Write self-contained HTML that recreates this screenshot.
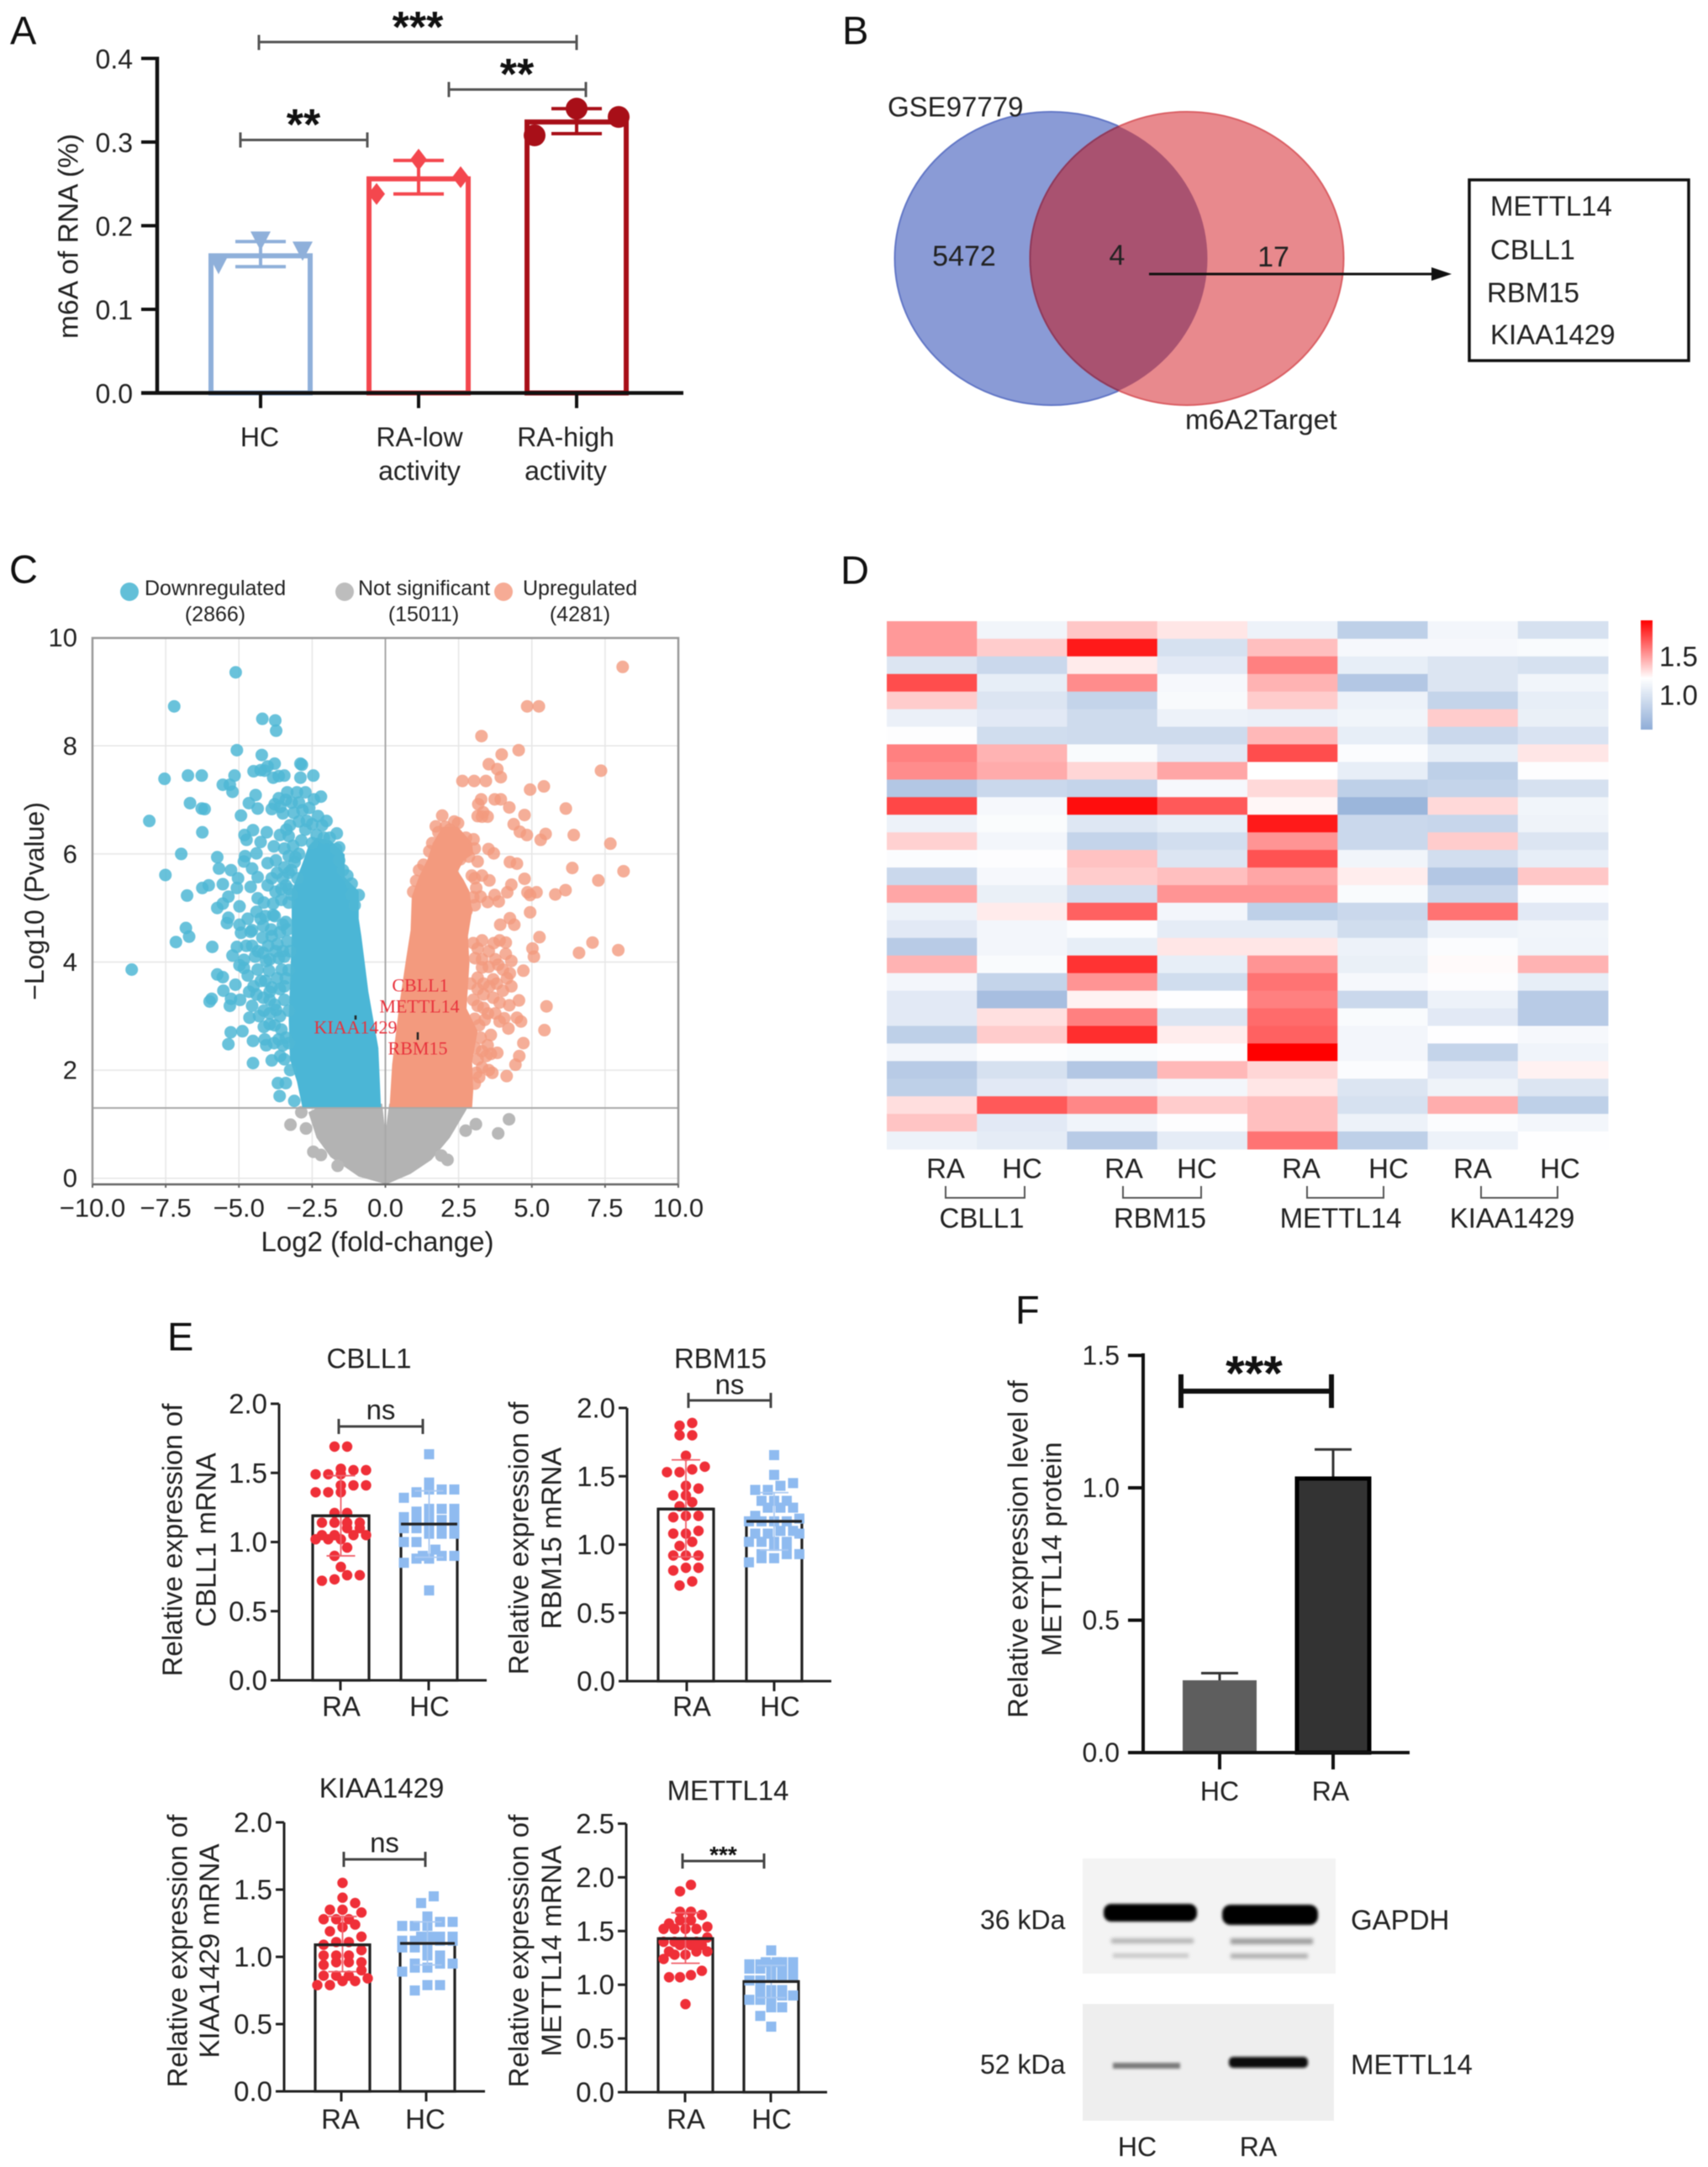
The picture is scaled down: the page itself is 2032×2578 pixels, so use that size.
<!DOCTYPE html>
<html lang="en">
<head>
<meta charset="utf-8">
<title>m6A multi-panel figure</title>
<style>
html,body{margin:0;padding:0;background:#fff;}
svg{display:block;filter:blur(0.6px);}
text{font-family:"Liberation Sans",Arial,sans-serif;fill:#222;dominant-baseline:central;}
.letter{font-size:47px;fill:#111;}
.t33{font-size:33px;}
.t32{font-size:32px;}
.t31{font-size:31px;}
.mid{text-anchor:middle;}
.end{text-anchor:end;}
.gene{font-family:"Liberation Serif",serif;font-size:22px;fill:#e8323c;text-anchor:middle;}
.star{font-weight:bold;fill:#111;text-anchor:middle;dominant-baseline:auto;}
</style>
</head>
<body>
<svg id="fig" xmlns="http://www.w3.org/2000/svg" width="2032" height="2578" viewBox="0 0 2032 2578">
<defs>
<clipPath id="vennClip"><ellipse cx="1250.5" cy="307.5" rx="186" ry="174.5"/></clipPath>
<clipPath id="plotClip"><rect x="110" y="759" width="697" height="650"/></clipPath>
<linearGradient id="cbar" x1="0" y1="0" x2="0" y2="1">
<stop offset="0" stop-color="#ff0000"/><stop offset="0.53" stop-color="#ffffff"/><stop offset="1" stop-color="#8fadd7"/>
</linearGradient>
<filter id="soft" x="-10%" y="-60%" width="120%" height="220%"><feGaussianBlur stdDeviation="2"/></filter>
<filter id="soft2" x="-10%" y="-100%" width="120%" height="300%"><feGaussianBlur stdDeviation="1.6"/></filter>
</defs>
<rect width="2032" height="2578" fill="#fff"/>

<!-- Panel A -->
<text class="letter" x="12" y="36">A</text>
<g id="panelA" transform="translate(-2,-1.5)"></g>
<text class="mid" x="82" y="281" transform="rotate(-90 82 281)" style="font-size:33.5px">m6A of RNA (%)</text>
<g stroke="#555" stroke-width="3" fill="none" transform="translate(-2,-0.5)">
<path d="M310 42V60M310 50.5H688M688 42V60"/>
<path d="M536 98V116M536 107H699M699 98V116"/>
<path d="M288 158V176M288 167H439M439 158V176"/>
</g>
<text class="star" font-size="52" x="497" y="50">***</text>
<text class="star" font-size="52" x="615" y="106">**</text>
<text class="star" font-size="52" x="361" y="166">**</text>

<!-- Panel B -->
<text class="letter" x="1002" y="36">B</text>
<g>
<ellipse cx="1250.5" cy="307.5" rx="186" ry="174.5" fill="#8a9bd6" stroke="#6277c6" stroke-width="2"/>
<ellipse cx="1412" cy="307.5" rx="186.5" ry="174.5" fill="#e8898d" stroke="#da5f64" stroke-width="2"/>
<ellipse cx="1412" cy="307.5" rx="186.5" ry="174.5" fill="#a95270" stroke="#8d3a5c" stroke-width="2" clip-path="url(#vennClip)"/>
</g>
<text x="1056" y="127" style="font-size:33px">GSE97779</text>
<text x="1410" y="500" style="font-size:33.5px">m6A2Target</text>
<text class="mid" x="1147" y="305" style="font-size:34px">5472</text>
<text class="mid" x="1329" y="304" style="font-size:34px">4</text>
<text class="mid" x="1515" y="306" style="font-size:34px">17</text>
<path d="M1367 326H1706" stroke="#111" stroke-width="3"/>
<path d="M1703 318L1727 326L1703 334Z" fill="#111"/>
<rect x="1748" y="214" width="261" height="215" fill="#fff" stroke="#111" stroke-width="3.5"/>
<text class="t33" x="1773" y="245">METTL14</text>
<text class="t33" x="1773" y="297">CBLL1</text>
<text class="t33" x="1769" y="348">RBM15</text>
<text class="t33" x="1773" y="398">KIAA1429</text>

<!-- Panel C -->
<text class="letter" x="11" y="677">C</text>
<g>
<circle cx="154" cy="704" r="11" fill="#62bfd8"/>
<text x="172" y="700" style="font-size:25px">Downregulated</text>
<text class="mid" x="256" y="731" style="font-size:25px">(2866)</text>
<circle cx="410" cy="704" r="11" fill="#bdbdbd"/>
<text x="426" y="700" style="font-size:25px">Not significant</text>
<text class="mid" x="504" y="731" style="font-size:25px">(15011)</text>
<circle cx="599" cy="704" r="11" fill="#f6ab95"/>
<text x="622" y="700" style="font-size:25px">Upregulated</text>
<text class="mid" x="690" y="731" style="font-size:25px">(4281)</text>
</g>
<g id="panelC"></g>
<text class="mid" x="449" y="1477" style="font-size:33px">Log2 (fold-change)</text>
<text class="t32 mid" x="41" y="1072" transform="rotate(-90 41 1072)">&#8722;Log10 (Pvalue)</text>
<text class="gene" x="500" y="1172">CBLL1</text>
<text class="gene" x="499" y="1197">METTL14</text>
<text class="gene" x="423" y="1222">KIAA1429</text>
<text class="gene" x="497" y="1247">RBM15</text>
<path d="M423 1208v5M497 1228v9" stroke="#222" stroke-width="2.5"/>

<!-- Panel D -->
<text class="letter" x="1000" y="678">D</text>
<g id="panelD"></g>
<rect x="1952" y="738" width="14" height="130" fill="url(#cbar)"/>
<text class="t33" x="1974" y="781">1.5</text>
<text class="t33" x="1974" y="827">1.0</text>
<g>
<text class="t33 mid" x="1125" y="1390">RA</text>
<text class="t33 mid" x="1216" y="1390">HC</text>
<text class="t33 mid" x="1337" y="1390">RA</text>
<text class="t33 mid" x="1424" y="1390">HC</text>
<text class="t33 mid" x="1548" y="1390">RA</text>
<text class="t33 mid" x="1652" y="1390">HC</text>
<text class="t33 mid" x="1752" y="1390">RA</text>
<text class="t33 mid" x="1856" y="1390">HC</text>
</g>
<g stroke="#555" stroke-width="2" fill="none" transform="translate(1,1)">
<path d="M1124 1410v14H1218v-14"/>
<path d="M1335 1410v14H1428v-14"/>
<path d="M1554 1410v14H1645v-14"/>
<path d="M1761 1410v14H1852v-14"/>
</g>
<text class="t33 mid" x="1168" y="1449">CBLL1</text>
<text class="t33 mid" x="1380" y="1449">RBM15</text>
<text class="t33 mid" x="1595" y="1449">METTL14</text>
<text class="t33 mid" x="1799" y="1449">KIAA1429</text>

<!-- Panel E -->
<text class="letter" x="199" y="1590">E</text>
<g id="panelE"></g>

<!-- Panel F -->
<text class="letter" x="1208" y="1558">F</text>
<g id="panelF"></g>
<text class="t33 mid" x="1211" y="1843" transform="rotate(-90 1211 1843)">Relative expression level of</text>
<text class="t33 mid" x="1251" y="1843" transform="rotate(-90 1251 1843)">METTL14 protein</text>
<path d="M1405 1635v40M1405 1655H1584M1584 1635v40" stroke="#111" stroke-width="6" fill="none"/>
<text class="star" font-size="58" x="1492" y="1654">***</text>

<g transform="translate(4,8)">
<rect x="1284" y="2203" width="301" height="137" fill="#f3f3f3"/>
<rect x="1309" y="2257" width="111" height="21" rx="9" fill="#050505" filter="url(#soft2)"/>
<rect x="1450" y="2258" width="114" height="24" rx="10" fill="#050505" filter="url(#soft2)"/>
<rect x="1318" y="2298" width="98" height="6" fill="#b5b5b5" filter="url(#soft)"/>
<rect x="1320" y="2316" width="90" height="5" fill="#c4c4c4" filter="url(#soft)"/>
<rect x="1460" y="2298" width="98" height="7" fill="#9f9f9f" filter="url(#soft)"/>
<rect x="1460" y="2316" width="92" height="6" fill="#b0b0b0" filter="url(#soft)"/>
</g>
<g transform="translate(4,8)">
<rect x="1284" y="2376" width="299" height="139" fill="#eeeeee"/>
<rect x="1320" y="2446" width="80" height="7" fill="#7a7a7a" filter="url(#soft2)"/>
<rect x="1458" y="2439" width="94" height="13" rx="5" fill="#0a0a0a" filter="url(#soft2)"/>
</g>
<text class="t32" x="1166" y="2284">36 kDa</text>
<text class="t33" x="1607" y="2284">GAPDH</text>
<text class="t32" x="1166" y="2456">52 kDa</text>
<text class="t33" x="1607" y="2456">METTL14</text>
<text class="t32 mid" x="1353" y="2554">HC</text>
<text class="t32 mid" x="1497" y="2554">RA</text>
</svg>

<script>
/* ---------- Panel A data ---------- */
const aCategories = [['HC'], ['RA-low', 'activity'], ['RA-high', 'activity']];
const aMeans = [0.164, 0.256, 0.324];
const aUpper = [0.181, 0.278, 0.340];
const aLower = [0.151, 0.238, 0.310];
const aPointsHC = [0.182, 0.170, 0.154];
const aPointsLow = [0.279, 0.258, 0.238];
const aPointsHigh = [0.340, 0.330, 0.308];
const aTicks = [0, 0.1, 0.2, 0.3, 0.4];

/* ---------- Panel C data (log2 fold-change, -log10 p) ---------- */
const volcanoXTicks = [-10, -7.5, -5, -2.5, 0, 2.5, 5, 7.5, 10];
const volcanoYTicks = [0, 2, 4, 6, 8, 10];
const pThreshold = 1.3;
const downPoints = [[-5.11,9.36],[-7.21,8.73],[-4.2,8.5],[-3.76,8.47],[-3.73,8.28],[-5.07,7.92],[-4.22,7.83],[-2.9,7.67],[-2.85,7.65],[-3.78,7.67],[-4.02,7.62],[-4.26,7.55],[-4.5,7.53],[-4.12,7.54],[-7.54,7.39],[-6.74,7.45],[-6.27,7.45],[-5.15,7.45],[-3.83,7.41],[-3.64,7.44],[-3.45,7.45],[-2.9,7.41],[-2.46,7.45],[-5.55,7.28],[-5.31,7.28],[-5.22,7.15],[-4.43,7.09],[-3.35,7.14],[-3.02,7.14],[-2.73,7.14],[-2.2,7.06],[-2.44,7.01],[-3.64,7.03],[-3.4,7],[-3.78,6.92],[-3.88,6.83],[-3.59,6.87],[-6.67,6.94],[-6.27,6.84],[-6.17,6.83],[-4.66,6.94],[-4.36,6.84],[-4.93,6.71],[-2.83,6.81],[-3.13,6.76],[-8.06,6.61],[-2.68,6.61],[-2.01,6.61],[-2.16,6.53],[-3.38,6.45],[-3.26,6.53],[-6.25,6.4],[-4.52,6.44],[-4.81,6.35],[-4.74,6.26],[-4.05,6.4],[-4.26,6.22],[-1.66,6.38],[-3.3,6.33],[-2.73,6.45],[-2.87,6.25],[-2.35,6.35],[-3.81,6.14],[-1.58,6.12],[-6.97,6],[-5.74,5.94],[-4.79,5.96],[-4.4,6.01],[-3.3,5.96],[-3.07,5.94],[-5.68,5.73],[-4.83,5.86],[-4.55,5.73],[-4.02,5.83],[-3.74,5.88],[-5.27,5.7],[-3.21,5.7],[-7.51,5.61],[-5.03,5.55],[-4.36,5.57],[-3.88,5.55],[-5.55,5.44],[-6.03,5.42],[-6.25,5.37],[-4.02,5.42],[-4.6,5.39],[-5.07,5.37],[-3.4,5.42],[-6.77,5.23],[-5.36,5.21],[-4.36,5.18],[-5.74,5],[-5.55,5.08],[-4.98,5.03],[-3.83,5.08],[-4.4,4.93],[-3.83,4.87],[-5.36,4.82],[-4.26,4.8],[-5.41,4.72],[-4.98,4.69],[-4.17,4.67],[-3.5,4.69],[-6.81,4.63],[-4.55,4.59],[-6.7,4.47],[-7.15,4.37],[-5.91,4.28],[-4.93,4.54],[-4.6,4.56],[-5.07,4.28],[-4.55,4.3],[-5.22,4.12],[-4.83,4.04],[-4.98,3.94],[-4.83,3.89],[-4.36,3.86],[-4.07,4.02],[-4.17,4.17],[-3.64,4.07],[-3.88,4.48],[-3.69,4.33],[-3.35,4.38],[-3.78,4.85],[-3.4,4.74],[-3.97,3.84],[-3.54,3.86],[-8.66,3.86],[-5.74,3.77],[-5.55,3.72],[-5.12,3.58],[-4.5,3.55],[-5.53,3.47],[-5.93,3.32],[-6,3.27],[-5.27,3.32],[-4.96,3.3],[-5.31,3.19],[-4.55,3.19],[-4.17,3.34],[-3.88,3.53],[-3.78,3.21],[-4.64,2.97],[-4.31,3],[-3.73,3.11],[-4.88,2.72],[-5.28,2.7],[-5.36,2.48],[-4.52,2.54],[-4.12,2.57],[-4.07,2.46],[-3.78,2.83],[-3.64,2.57],[-3.5,2.46],[-3.59,2.26],[-3.88,2.18],[-4.52,2.13],[-3.67,1.76],[-3.4,1.76],[-3.61,1.52],[-3.11,1.43],[-0.91,5.24],[-1.15,5.24],[-1.58,5.88],[-1.68,6.09],[-1.45,5.7],[-2.1,6.3],[-2.5,6.2],[-4.0,4.3],[-3.5,4.2],[-3.95,3.3],[-3.6,3.5],[-3.6,3.0],[-3.55,2.75],[-3.45,3.55],[-3.3,5.1],[-3.3,5.35],[-3.55,5.15],[-3.0,5.55],[-3.45,5.75],[-3.9,4.6],[-3.6,4.55],[-3.35,4.6],[-3.75,4.2],[-3.45,4.1],[-3.25,4.2],[-3.95,4.05],[-3.3,3.85],[-3.7,3.7],[-3.4,3.7],[-4.1,3.65],[-3.95,3.45],[-4.15,3.1],[-3.95,3.05],[-3.45,3.3],[-3.3,3.1],[-3.95,2.85],[-3.4,2.6],[-3.8,2.5],[-3.3,2.5],[-3.45,2.2],[-3.25,2.0],[-4.2,4.45],[-4.35,4.2],[-4.25,3.65],[-4.4,3.4],[-3.55,5.35],[-3.75,5.3],[-3.2,5.25],[-3.5,5.55],[-3.7,5.65],[-3.3,5.65],[-3.1,5.85],[-3.45,6.1],[-3.15,6.15],[-2.95,6.0],[-3.6,6.35],[-2.6,6.85],[-2.95,6.6],[-2.5,6.55],[-2.3,6.7],[-3.2,6.95],[-3.5,6.75],[-2.95,6.95],[-1.9,6.3],[-1.3,5.6],[-1.15,5.45],[-1.05,5.05],[-4.15,5.1],[-4.1,4.85],[-4.7,4.8],[-4.75,4.3],[-4.45,4.1],[-4.7,3.75],[-4.65,3.45],[-4.15,2.8]];
const downCoreX = [-2.83,-3.02,-3.26,-3.3,-3.2,-3.2,-2.83,-2.63,-2.35,-1.87,-1.39,-1.39,-0.91,-0.91,-0.82,-0.58,-0.24,-0.15];
const downCoreY = [1.3,1.79,2.2,2.93,4.48,5.31,5.83,6.14,6.3,6.25,5.99,5.57,5.31,4.8,4.48,3.45,2.41,1.3];
const upPoints = [[8.1,9.46],[4.84,8.73],[5.24,8.73],[3.28,8.18],[4.55,7.92],[3.97,7.84],[3.53,7.66],[3.82,7.57],[3.94,7.42],[7.36,7.54],[2.63,7.35],[3.03,7.35],[3.43,7.35],[4.94,7.19],[5.41,7.25],[3.27,7.01],[3.17,6.92],[3.73,7.01],[3.94,7.01],[4.23,6.86],[6.16,6.84],[4.75,6.72],[3.15,6.7],[3.34,6.77],[3.49,6.69],[3.3,6.69],[1.94,6.71],[2.48,6.57],[1.72,6.51],[1.81,6.4],[4.38,6.55],[4.59,6.41],[4.83,6.35],[5.47,6.37],[5.3,6.26],[6.43,6.35],[7.68,6.19],[3.01,6.27],[3.52,6.09],[3.7,6.01],[3.15,5.86],[4.25,5.85],[4.49,5.82],[6.38,5.74],[8.13,5.68],[4.75,5.54],[3.55,5.51],[7.27,5.51],[4.3,5.43],[3.1,5.37],[4.16,5.29],[3.73,5.24],[4.85,5.29],[5.16,5.29],[4.94,5.24],[5.8,5.25],[6.15,5.33],[3.49,5.11],[3.87,5.12],[3.25,5.21],[4.94,4.92],[4.25,4.81],[3.92,4.69],[4.4,4.69],[2.77,4.95],[5.26,4.46],[5.02,4.25],[5.07,4.1],[6.61,4.17],[7.07,4.36],[7.95,4.22],[4.11,4.36],[3.15,4.25],[3.53,4.2],[4.11,4.15],[3.06,4.07],[4.3,4.02],[3.53,3.91],[4.01,3.86],[4.71,3.84],[4.25,3.79],[3.15,3.71],[3.68,3.68],[4.3,3.55],[4.01,3.47],[3.15,3.5],[3.68,3.34],[4.56,3.29],[4.23,3.2],[5.5,3.18],[3.15,3.19],[4.06,2.96],[4.49,2.97],[4.63,2.9],[4.2,2.77],[5.43,2.74],[3.39,2.93],[3.2,2.83],[4.71,2.5],[3.49,2.46],[3.82,2.32],[3.44,2.26],[4.57,2.26],[4.44,2.1],[3.53,2],[3.2,1.87],[4.14,1.89],[3.06,2.41],[3.15,2.2],[3.85,3.95],[3.3,3.9],[3.8,3.6],[3.35,3.4],[3.0,3.3],[2.9,3.6],[3.05,5.55],[2.85,5.95],[2.6,6.05],[2.2,6.45],[3.3,4.05],[3.7,4.35],[3.9,4.4],[3.75,4.05],[4.15,3.7],[3.35,3.6],[3.55,3.55],[3.9,3.25],[3.35,3.15],[3.5,3.05],[3.75,3.05],[3.9,2.9],[3.05,2.95],[3.25,2.6],[3.6,2.65],[3.3,2.35],[3.6,2.3],[3.3,2.05],[3.1,1.95],[3.65,1.95],[3.05,1.75],[3.0,4.35],[3.3,4.4],[3.05,5.05],[3.0,5.2],[2.95,5.6],[3.3,5.6],[3.05,6.1],[2.75,6.3],[2.35,6.6],[2.05,6.5],[1.6,6.2],[1.5,6.05],[1.3,5.8],[1.05,5.5],[0.95,5.3],[1.15,5.7],[2.55,5.9]];
const upCoreX = [0.14,0.23,0.47,0.71,0.86,0.9,1.14,1.43,1.62,1.95,2.48,2.96,3.0,2.67,2.48,2.67,2.87,2.96,2.82,2.87,2.77,3.15,2.96,3.0,2.96];
const upCoreY = [1.3,2.1,3.19,4.07,4.59,5.21,5.57,5.89,6.2,6.5,6.5,6.2,6.0,5.88,5.68,5.52,5.31,4.95,4.48,3.97,3.14,2.72,2.15,1.63,1.3];
const nsPoints = [[-2.87,1.22],[-3.24,0.99],[-2.71,0.92],[-2.46,0.49],[-2.2,0.43],[-1.63,0.23],[4.22,1.09],[3.09,1.0],[3.85,0.83],[2.74,0.88],[2.12,0.34],[1.91,0.42]];
const nsCoreX = [-2.63,-2.06,-0.11,0,0.13,2.77,2.77,2.2,1.57,0.86,0.09,-0.05,-0.91,-1.87,-2.35];
const nsCoreY = [1.22,1.38,1.38,0.85,1.38,1.39,1.27,0.75,0.34,0.08,-0.1,-0.1,0.03,0.39,0.75];

/* ---------- Panel D data: shade relative to colour-bar midpoint (-1 blue .. +1 red) ---------- */
const heatRows = [
[.4,-.12,.22,.1,-.15,-.55,-.1,-.35],
[.4,.2,.9,-.35,.25,-.08,-.08,-.05],
[-.3,-.45,.08,-.25,.5,-.2,-.3,-.35],
[.7,-.2,.45,-.08,.3,-.65,-.3,-.12],
[.2,-.3,-.5,-.06,.2,-.15,-.5,-.2],
[-.17,-.25,-.42,-.15,-.17,-.12,.2,-.18],
[-.02,-.4,-.42,-.42,.28,-.2,-.45,-.32],
[.5,.3,-.05,-.25,.7,-.03,-.2,.1],
[.45,.33,.16,.35,0,-.2,-.55,-.02],
[-.65,-.45,-.5,-.08,.15,-.55,-.5,-.35],
[.72,-.08,.95,.65,.03,-.85,.15,-.12],
[-.15,-.04,-.28,-.2,.9,-.45,-.48,-.14],
[.18,-.1,-.5,-.38,.42,-.45,.2,-.3],
[-.03,-.02,.24,-.3,.68,-.12,-.38,-.2],
[-.45,-.08,.2,.25,.35,.07,-.65,.22],
[.35,-.18,-.38,.42,.42,-.05,-.45,-.03],
[-.15,.08,.62,-.1,-.55,-.45,.55,-.25],
[-.25,-.1,-.03,-.22,-.22,-.4,-.15,-.12],
[-.6,-.1,-.2,.1,.1,-.15,-.03,-.13],
[.3,-.05,.8,-.2,.42,-.18,.02,.3],
[-.1,-.5,.42,-.4,.55,-.08,-.02,-.2],
[-.25,-.75,.05,-.01,.5,-.45,-.15,-.6],
[-.25,.12,.5,-.3,.58,-.05,-.25,-.6],
[-.55,.2,.82,.07,.62,-.1,-.01,-.08],
[-.1,-.02,-.05,-.02,1,-.1,-.5,-.13],
[-.6,-.35,-.65,.28,.16,-.03,-.25,.05],
[-.55,-.25,-.17,-.1,.1,-.3,-.14,-.3],
[.13,.65,.47,.2,.25,-.35,.32,-.55],
[.23,-.25,-.13,-.02,.25,-.15,-.03,-.1],
[-.15,-.22,-.6,-.22,.55,-.55,-.15,-.01]];

/* ---------- Panel E data ---------- */
const eCategories = ['RA', 'HC'];
const cbll1RA = [1.69,1.69,1.53,1.52,1.52,1.49,1.49,1.49,1.41,1.41,1.41,1.36,1.36,1.36,1.21,1.21,1.14,1.14,1.14,1.14,1.1,1.1,1.05,1.05,1.05,1.05,1.02,1.02,1.02,.96,.9,.82,.76,.76,.73,.72];
const cbll1HC = [1.635,1.43,1.38,1.38,1.38,1.36,1.32,1.24,1.24,1.24,1.22,1.22,1.18,1.18,1.16,1.16,1.16,1.16,1.13,1.13,1.1,1.1,1.1,1.06,1.06,1.06,1,1,.945,.9,.9,.9,.88,.88,.85,.65];
const rbm15RA = [1.89,1.87,1.8,1.8,1.65,1.57,1.55,1.53,1.53,1.43,1.41,1.36,1.36,1.31,1.28,1.21,1.21,1.2,1.1,1.08,1.08,1.02,.99,.92,.92,.92,.83,.83,.81,.73,.7];
const rbm15HC = [1.655,1.51,1.45,1.43,1.4,1.4,1.32,1.32,1.32,1.27,1.27,1.27,1.21,1.19,1.17,1.17,1.17,1.17,1.1,1.1,1.08,1.08,1.08,1.02,1.02,1.02,1.02,.99,.99,.93,.93,.93,.9,.9,.87];
const kiaaRA = [1.55,1.44,1.4,1.35,1.35,1.33,1.28,1.28,1.28,1.24,1.22,1.19,1.15,1.11,1.11,1.09,1.05,1.01,1.01,1.01,.96,.96,.96,.94,.9,.86,.86,.86,.84,.82,.82,.79,.79];
const kiaaHC = [1.45,1.4,1.3,1.26,1.26,1.23,1.23,1.23,1.15,1.15,1.15,1.15,1.15,1.12,1.12,1.12,1.12,1.07,1.07,1.07,1.01,1.01,.95,.95,.95,.92,.92,.89,.79,.79,.75];
const mettlRA = [1.93,1.87,1.68,1.68,1.65,1.6,1.6,1.57,1.54,1.52,1.52,1.52,1.52,1.44,1.4,1.4,1.4,1.4,1.37,1.37,1.37,1.31,1.31,1.31,1.28,1.28,1.24,1.13,1.09,1.07,1.07,.82];
const mettlHC = [1.32,1.21,1.21,1.21,1.21,1.19,1.19,1.19,1.15,1.15,1.15,1.15,1.15,1.09,1.09,1.09,1.04,1.04,.95,.95,.95,.9,.9,.86,.86,.86,.79,.79,.71,.61];
const eMeans = {cbll1:[1.19,1.13], rbm15:[1.26,1.17], kiaa:[1.09,1.10], mettl:[1.43,1.03]};
const eUpper = {cbll1:[1.48,1.37], rbm15:[1.62,1.38], kiaa:[1.30,1.26], mettl:[1.67,1.18]};
const eLower = {cbll1:[0.90,0.89], rbm15:[0.91,0.96], kiaa:[0.89,0.94], mettl:[1.20,0.88]};
const eTicks2 = [0, 0.5, 1, 1.5, 2];
const eTicks25 = [0, 0.5, 1, 1.5, 2, 2.5];

/* ---------- Panel F data ---------- */
const fCategories = ['HC', 'RA'];
const fMeans = [0.27, 1.035];
const fUpper = [0.30, 1.145];
const fTicks = [0, 0.5, 1, 1.5];

/* ---------- helpers ---------- */
const NS = 'http://www.w3.org/2000/svg';
function mk(parent, tag, attrs, txt) {
  const e = document.createElementNS(NS, tag);
  for (const k in attrs) e.setAttribute(k, attrs[k]);
  if (txt !== undefined) e.textContent = txt;
  parent.appendChild(e);
  return e;
}
function fmt(v, d) { return v.toFixed(d); }

/* ---------- Panel A ---------- */
(function () {
  const g = document.getElementById('panelA');
  const yA = v => 469 - v * 995;
  const xA = i => 312 + i * 188;
  const colors = ['#8fb0da', '#f4474e', '#a80f18'];
  const series = [aPointsHC, aPointsLow, aPointsHigh];
  aMeans.forEach((m, i) => {
    const cx = xA(i);
    const bar = mk(g, 'rect', {x: cx - 59, y: yA(m), width: 118, height: 469 - yA(m), fill: '#fff', stroke: colors[i], 'stroke-width': 6});
    
    
    const err = mk(g, 'path', {d: `M${cx} ${yA(aUpper[i])}V${yA(aLower[i])}M${cx - 30} ${yA(aUpper[i])}h60M${cx - 30} ${yA(aLower[i])}h60`, stroke: colors[i], 'stroke-width': 4, fill: 'none'});
    
    
    series[i].forEach((v, j) => {
      const px = cx + [0, 50, -50][j], py = yA(v);
      let pt;
      if (i === 0) pt = mk(g, 'path', {d: `M${px - 12} ${py - 11}h24L${px} ${py + 12}Z`, fill: colors[i]});
      else if (i === 1) pt = mk(g, 'path', {d: `M${px} ${py - 13}L${px + 10} ${py}L${px} ${py + 13}L${px - 10} ${py}Z`, fill: colors[i]});
      else pt = mk(g, 'circle', {cx: px, cy: py, r: 13, fill: colors[i]});
      
      
    });
  });
  const axes = mk(g, 'path', {d: 'M189 69V469M170 469H815', stroke: '#111', 'stroke-width': 4.5, fill: 'none'});
  
  
  aTicks.forEach(t => {
    const tk = mk(g, 'path', {d: `M170 ${yA(t)}H189`, stroke: '#111', 'stroke-width': 4});
    
    
    const lb = mk(g, 'text', {x: 160, y: yA(t) + 1, class: 't32 end'}, fmt(t, 1));
    
    
  });
  const lblX = [311, 501, 675];
  aCategories.forEach((c, i) => {
    const tk = mk(g, 'path', {d: `M${xA(i)} 469V487`, stroke: '#111', 'stroke-width': 4});
    
    
    c.forEach((line, k) => {
      const lb = mk(g, 'text', {x: lblX[i], y: 521.5 + k * 40, class: 't32 mid'}, line);
      
      
    });
  });
})();

/* ---------- Panel C ---------- */
(function () {
  const g = document.getElementById('panelC');
  const xV = v => 458.5 + v * 34.85;
  const yV = v => 1401.7 - v * 64.3;
  const plot = mk(g, 'g', {'clip-path': 'url(#plotClip)'});
  
  
  volcanoXTicks.forEach(t => {
    const l = mk(plot, 'line', {x1: xV(t), x2: xV(t), y1: 759, y2: 1409, stroke: '#e6e6e6', 'stroke-width': 1.5});
    
    
  });
  volcanoYTicks.forEach(t => {
    const l = mk(plot, 'line', {x1: 110, x2: 807, y1: yV(t), y2: yV(t), stroke: '#e6e6e6', 'stroke-width': 1.5});
    
    
  });
  function core(xs, ys, col, name) {
    const p = mk(plot, 'polygon', {points: xs.map((x, i) => xV(x) + ',' + yV(ys[i])).join(' '), fill: col});
    
    
  }
  function dots(list, col, op, name) {
    list.forEach(d => {
      const c = mk(plot, 'circle', {cx: xV(d[0]), cy: yV(d[1]), r: 7.5, fill: col, 'fill-opacity': op});
      
      
    });
  }
  core(nsCoreX, nsCoreY, '#b3b3b3', 'not-significant-dense-region');
  dots(nsPoints, '#b8b8b8', 1, 'not-significant-point');
  core(downCoreX, downCoreY, '#4bb6d6', 'downregulated-dense-region');
  dots(downPoints, '#4fb7d5', 0.85, 'downregulated-point');
  core(upCoreX, upCoreY, '#f39a7e', 'upregulated-dense-region');
  dots(upPoints, '#f39a7e', 0.8, 'upregulated-point');
  const th = mk(plot, 'line', {x1: 110, x2: 807, y1: yV(pThreshold), y2: yV(pThreshold), stroke: '#a8a8a8', 'stroke-width': 2});
  
  
  const zero = mk(plot, 'line', {x1: xV(0), x2: xV(0), y1: 759, y2: 1409, stroke: '#a8a8a8', 'stroke-width': 2});
  
  
  const frame = mk(g, 'path', {d: 'M110 1409V759H807V1409', fill: 'none', stroke: '#999', 'stroke-width': 2.5});
  
  
  const xAxis = mk(g, 'line', {x1: 110, x2: 807, y1: 1409, y2: 1409, stroke: '#666', 'stroke-width': 2.5});
  
  
  volcanoXTicks.forEach(t => {
    const tk = mk(g, 'line', {x1: xV(t), x2: xV(t), y1: 1409, y2: 1413, stroke: '#666', 'stroke-width': 2});
    
    
    const lb = mk(g, 'text', {x: xV(t), y: 1437, class: 't31 mid'}, (t < 0 ? '\u2212' : '') + fmt(Math.abs(t), 1));
    
    
  });
  volcanoYTicks.forEach(t => {
    const lb = mk(g, 'text', {x: 92, y: yV(t), class: 't31 end'}, String(t));
    
    
  });
})();

/* ---------- Panel D ---------- */
(function () {
  const g = document.getElementById('panelD');
  const left = 1055, top = 739, cw = 858 / 8, ch = 628 / heatRows.length;
  const lerp = (a, b, t) => Math.round(a + (b - a) * t);
  function shade(t) {
    if (t >= 0) return `rgb(255,${lerp(255, 0, t)},${lerp(255, 0, t)})`;
    const u = -t * 1.05;
    return `rgb(${lerp(255, 143, u)},${lerp(255, 173, u)},${lerp(255, 215, u)})`;
  }
  heatRows.forEach((row, r) => {
    row.forEach((t, c) => {
      const cell = mk(g, 'rect', {x: left + c * cw, y: top + r * ch, width: cw + 0.5, height: ch + 0.5, fill: shade(t)});
      
      
    });
  });
})();

/* ---------- Panel E ---------- */
(function () {
  const root = document.getElementById('panelE');
  function swarm(vals, yS, spacing) {
    const sorted = vals.slice().sort((a, b) => a - b);
    const out = [];
    let bin = [];
    const flush = () => {
      bin.forEach((v, i) => out.push([(i - (bin.length - 1) / 2) * spacing, v]));
      bin = [];
    };
    sorted.forEach(v => {
      if (bin.length && (yS(bin[0]) - yS(v) > 11 || bin.length >= 5)) flush();
      bin.push(v);
    });
    flush();
    return out;
  }
  function panel(p) {
    const g = mk(root, 'g', {});
    
    
    const yS = v => p.y0 - v * p.k;
    const ticks = p.ticks;
    p.barX.forEach((bx, i) => {
      const bar = mk(g, 'rect', {x: bx, y: yS(p.means[i]), width: p.barW, height: p.y0 - yS(p.means[i]), fill: '#fff', stroke: '#222', 'stroke-width': 3.2});
      
      
    });
    p.barX.forEach((bx, i) => {
      const cx = bx + p.barW / 2;
      const col = i === 0 ? '#ef2f38' : '#8fbbf0';
      swarm(p.vals[i], yS, p.spacing).forEach(d => {
        let m;
        if (i === 0) m = mk(g, 'circle', {cx: cx + d[0], cy: yS(d[1]), r: 6.2, fill: col});
        else m = mk(g, 'rect', {x: cx + d[0] - 6, y: yS(d[1]) - 6, width: 12, height: 12, fill: col});
        
        
      });
      const hi = yS(p.upper[i]), lo = yS(p.lower[i]);
      const err = mk(g, 'path', {d: `M${cx} ${hi}V${lo}M${cx - 17} ${hi}h34M${cx - 17} ${lo}h34`, stroke: i === 0 ? '#f0606a' : '#a9c9f2', 'stroke-width': 1.8, fill: 'none'});
      
      
      const meanLine = mk(g, 'line', {x1: bx, x2: bx + p.barW, y1: yS(p.means[i]), y2: yS(p.means[i]), stroke: '#222', 'stroke-width': 3.2});
      
      
      const tk = mk(g, 'line', {x1: p.tickX[i], x2: p.tickX[i], y1: p.y0, y2: p.y0 + 12, stroke: '#222', 'stroke-width': 3});
      
      
      const lb = mk(g, 'text', {x: p.labelX[i], y: p.labelY, class: 't33 mid'}, eCategories[i]);
      
      
    });
    const axes = mk(g, 'path', {d: `M${p.ax} ${yS(ticks[ticks.length - 1])}V${p.y0}M${p.ax - 7} ${p.y0}H${p.xEnd}`, stroke: '#222', 'stroke-width': 3, fill: 'none'});
    
    
    ticks.forEach(t => {
      const tk = mk(g, 'line', {x1: p.ax - 10, x2: p.ax, y1: yS(t), y2: yS(t), stroke: '#222', 'stroke-width': 3});
      
      
      const lb = mk(g, 'text', {x: p.ax - 14, y: yS(t), class: 't33 end'}, fmt(t, 1));
      
      
    });
    const title = mk(g, 'text', {x: p.titleX, y: p.titleY, class: 't33 mid'}, p.title);
    
    
    p.yTitle.forEach((line, k) => {
      const tx = p.yTitleX[k];
      const yt = mk(g, 'text', {x: tx, y: p.yTitleY, class: 't33 mid', transform: `rotate(-90 ${tx} ${p.yTitleY})`}, line);
      
      
    });
    const b = p.bracket;
    const br = mk(g, 'path', {d: `M${b[0]} ${b[2] - 9}v18M${b[0]} ${b[2]}H${b[1]}M${b[1]} ${b[2] - 9}v18`, stroke: '#444', 'stroke-width': 3, fill: 'none'});
    
    
    const sig = mk(g, 'text', p.sig === 'ns'
      ? {x: (b[0] + b[1]) / 2, y: p.sigY, class: 't33 mid'}
      : {x: (b[0] + b[1]) / 2, y: p.sigY + 16, class: 'star', 'font-size': 28}, p.sig);
    
    
  }
  panel({key: 'cbll1', title: 'CBLL1', titleX: 439, titleY: 1616, ax: 332, y0: 1999, k: 164.5, xEnd: 579, barX: [372, 477], barW: 67, tickX: [405, 510], labelX: [406, 511], labelY: 2030, ticks: eTicks2, means: eMeans.cbll1, upper: eUpper.cbll1, lower: eLower.cbll1, vals: [cbll1RA, cbll1HC], spacing: 15, yTitle: ['Relative expression of', 'CBLL1 mRNA'], yTitleX: [205, 245], yTitleY: 1832, bracket: [403, 503, 1697], sig: 'ns', sigY: 1677});
  panel({key: 'rbm15', title: 'RBM15', titleX: 857, titleY: 1616, ax: 746, y0: 2000, k: 162.5, xEnd: 989, barX: [783, 888], barW: 66, tickX: [817, 921], labelX: [823, 928], labelY: 2030, ticks: eTicks2, means: eMeans.rbm15, upper: eUpper.rbm15, lower: eLower.rbm15, vals: [rbm15RA, rbm15HC], spacing: 15, yTitle: ['Relative expression of', 'RBM15 mRNA'], yTitleX: [617, 656], yTitleY: 1830, bracket: [819, 917, 1666], sig: 'ns', sigY: 1647});
  panel({key: 'kiaa1429', title: 'KIAA1429', titleX: 454, titleY: 2127, ax: 338, y0: 2488, k: 160, xEnd: 577, barX: [375, 476], barW: 65, tickX: [406, 507], labelX: [405, 506], labelY: 2521, ticks: eTicks2, means: eMeans.kiaa, upper: eUpper.kiaa, lower: eLower.kiaa, vals: [kiaaRA, kiaaHC], spacing: 15, yTitle: ['Relative expression of', 'KIAA1429 mRNA'], yTitleX: [211, 249], yTitleY: 2321, bracket: [409, 506, 2212], sig: 'ns', sigY: 2192});
  panel({key: 'mettl14', title: 'METTL14', titleX: 866, titleY: 2130, ax: 745, y0: 2489, k: 127.8, xEnd: 984, barX: [783, 885], barW: 65, tickX: [815, 917], labelX: [816, 918], labelY: 2521, ticks: eTicks25, means: eMeans.mettl, upper: eUpper.mettl, lower: eLower.mettl, vals: [mettlRA, mettlHC], spacing: 13, yTitle: ['Relative expression of', 'METTL14 mRNA'], yTitleX: [617, 656], yTitleY: 2321, bracket: [812, 909, 2214], sig: '***', sigY: 2200});
})();

/* ---------- Panel F ---------- */
(function () {
  const g = document.getElementById('panelF');
  const yF = v => 2085 - v * 315;
  const xF = [1451, 1586];
  const fills = ['#5e5e5e', '#333333'];
  const strokes = ['#5e5e5e', '#000000'];
  fCategories.forEach((c, i) => {
    const err = mk(g, 'path', {d: `M${xF[i]} ${yF(fMeans[i])}V${yF(fUpper[i])}M${xF[i] - 22} ${yF(fUpper[i])}h44`, stroke: '#333', 'stroke-width': 3, fill: 'none'});
    
    
    const bar = mk(g, 'rect', {x: xF[i] - 43, y: yF(fMeans[i]), width: 86, height: 2085 - yF(fMeans[i]), fill: fills[i], stroke: strokes[i], 'stroke-width': i ? 5 : 2});
    
    
    const tk = mk(g, 'line', {x1: xF[i], x2: xF[i], y1: 2085, y2: 2105, stroke: '#111', 'stroke-width': 4});
    
    
    const lb = mk(g, 'text', {x: xF[i] - (i ? 3 : 0), y: 2131, class: 't32 mid'}, c);
    
    
  });
  const axes = mk(g, 'path', {d: 'M1360 1610V2085M1342 2085H1677', stroke: '#111', 'stroke-width': 4, fill: 'none'});
  
  
  fTicks.forEach(t => {
    const tk = mk(g, 'line', {x1: 1342, x2: 1360, y1: yF(t), y2: yF(t), stroke: '#111', 'stroke-width': 4});
    
    
    const lb = mk(g, 'text', {x: 1332, y: yF(t), class: 't32 end'}, fmt(t, 1));
    
    
  });
})();
</script>
</body>
</html>
